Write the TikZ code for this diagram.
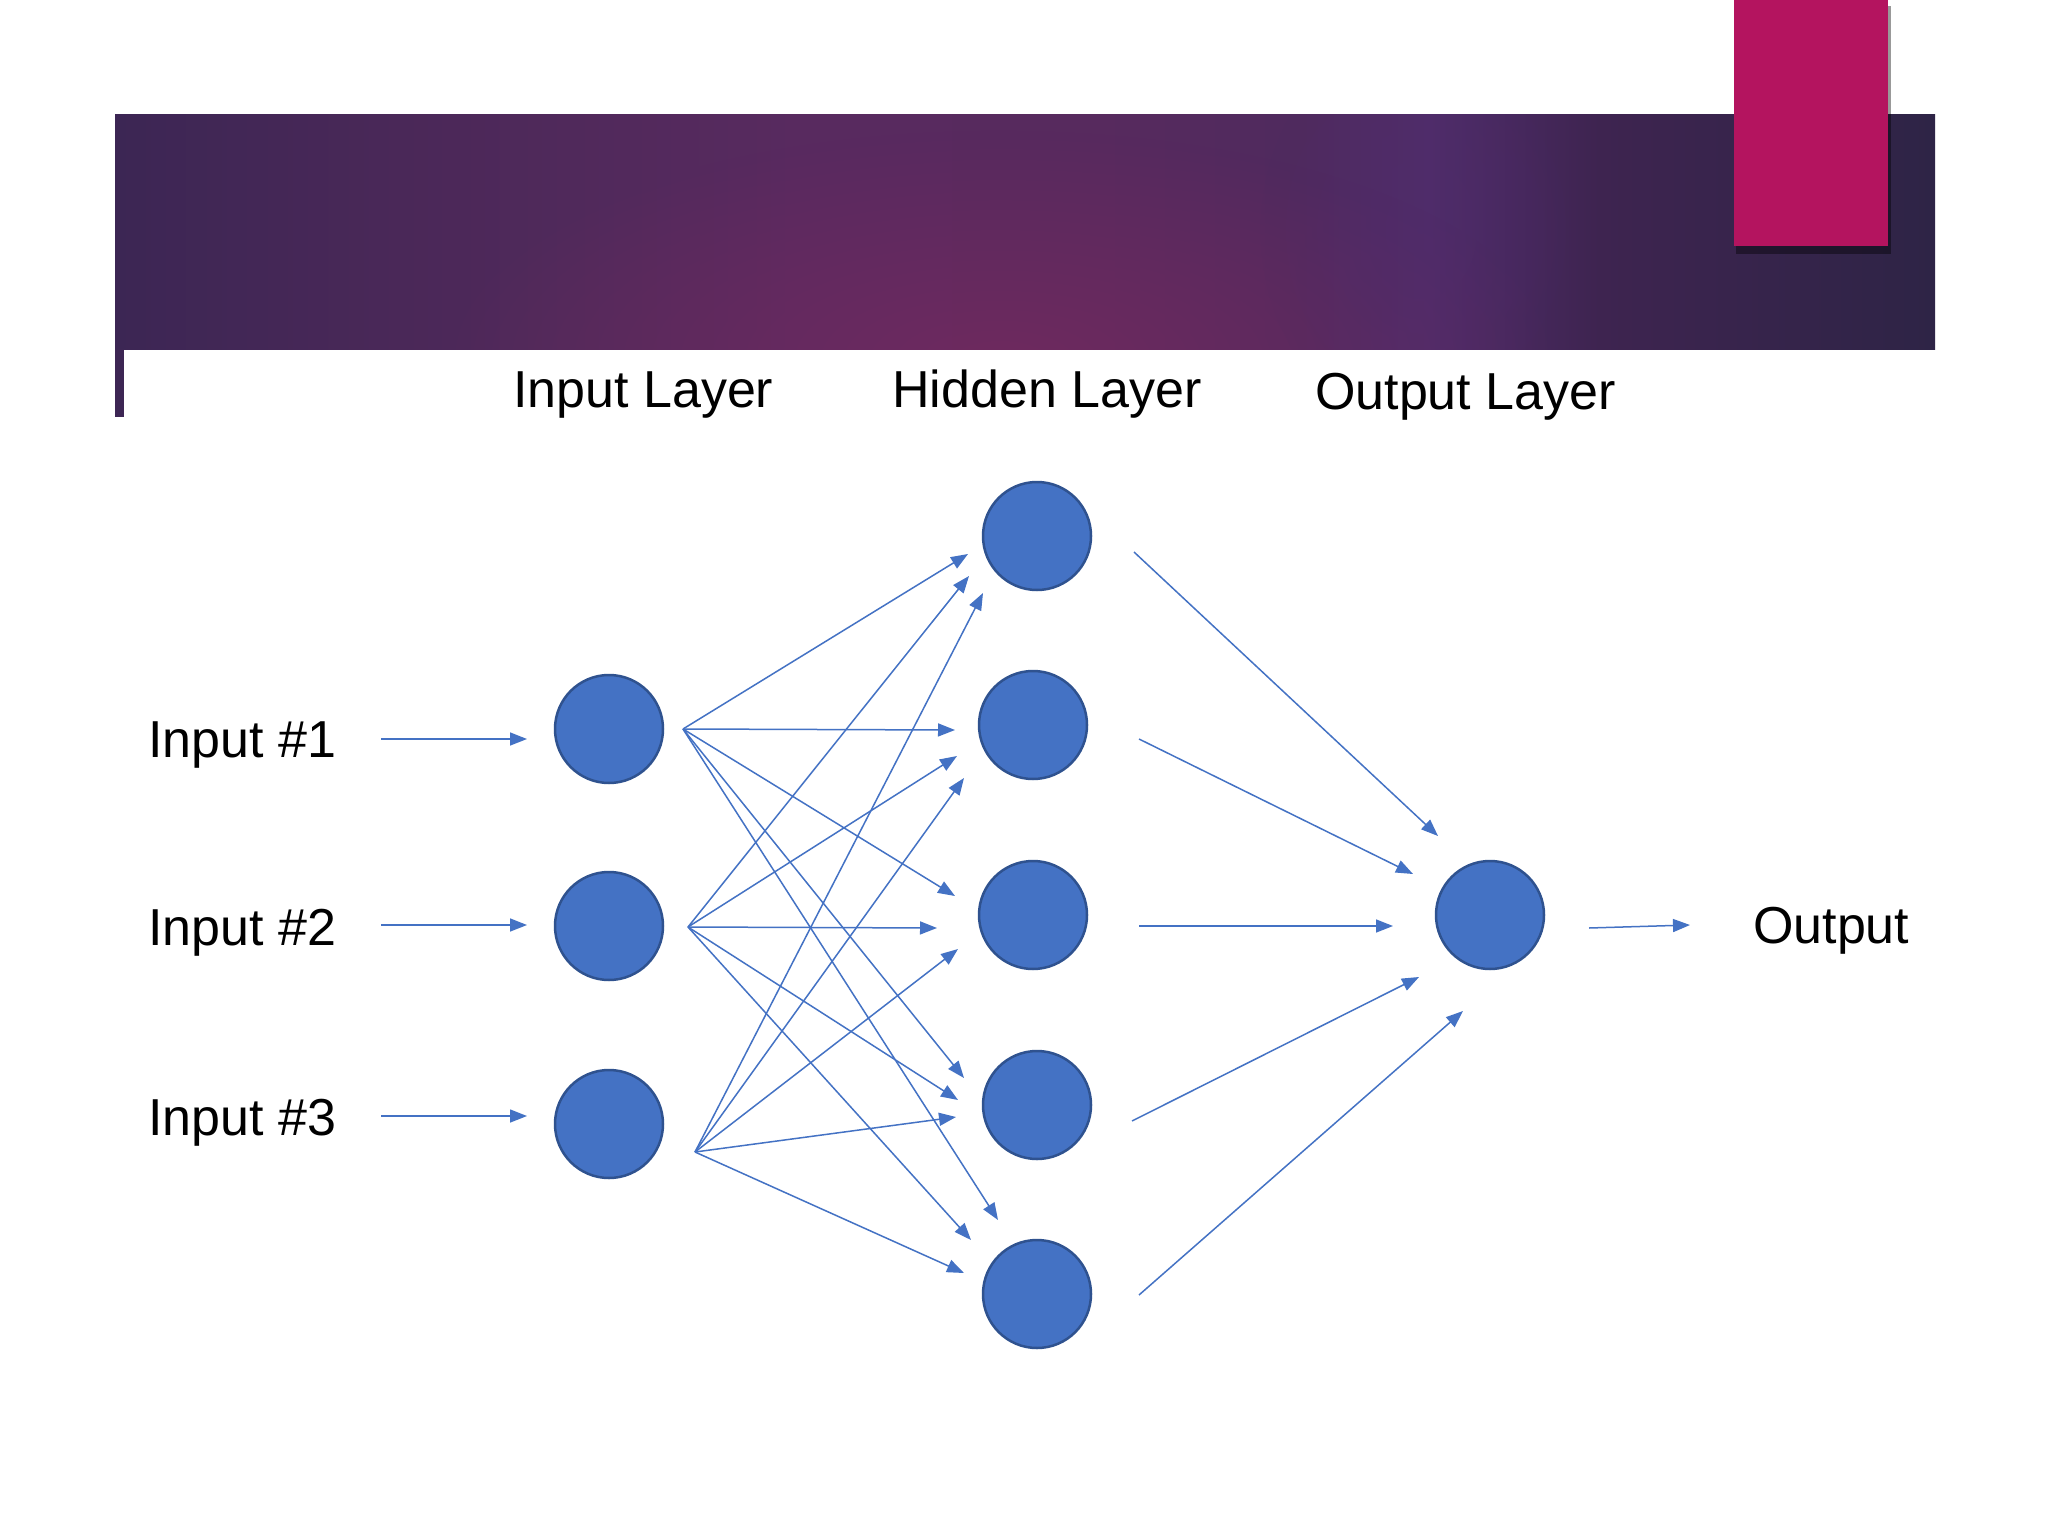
\documentclass[tikz,border=0pt]{standalone}
\usepackage{fontspec}
\setmainfont{Liberation Sans}
\usetikzlibrary{arrows.meta,fadings}
\definecolor{nblue}{HTML}{4472C4}
\definecolor{nedge}{HTML}{2F528F}
\definecolor{mag}{HTML}{B4145F}
\definecolor{bA}{HTML}{3C2654}
\definecolor{bB}{HTML}{4A2858}
\definecolor{bC}{HTML}{582A5F}
\definecolor{bD}{HTML}{572A5E}
\definecolor{bE}{HTML}{4F2A5E}
\definecolor{bF}{HTML}{4F2C6A}
\definecolor{bG}{HTML}{3E2450}
\definecolor{bH}{HTML}{2E2446}
\definecolor{glowc}{HTML}{72295F}
\definecolor{sidebar}{HTML}{3D2654}
\pgfdeclarehorizontalshading{bannershade}{100bp}{color(0bp)=(bA); color(25bp)=(bA); color(32.8bp)=(bB); color(43.8bp)=(bC); color(52.1bp)=(bD); color(57.6bp)=(bE); color(61.1bp)=(bF); color(65.8bp)=(bG); color(75bp)=(bH); color(100bp)=(bH)}
\tikzfading[name=glowfade, inner color=transparent!15, outer color=transparent!100]
\tikzset{
  neuron/.style={circle, fill=nblue, draw=nedge, line width=2.5pt, minimum size=108pt, inner sep=0pt},
  conn/.style={draw=nblue, line width=1.5pt, -{Triangle[length=17pt,width=13pt]}},
  lbl/.style={font=\fontsize{52}{62}\selectfont, inner sep=0pt, anchor=base west, text=black}
}
\begin{document}
\begin{tikzpicture}[x=1pt,y=-1pt]
\useasboundingbox (0,0) rectangle (2048,1536);
\fill[white] (0,0) rectangle (2048,1536);
% banner
\shade[shading=bannershade] (115,115) rectangle (1935,349);
\begin{scope}
  \clip (115,115) rectangle (1935,349);
  \fill[glowc, path fading=glowfade] (1000,360) ellipse (560 and 230);
  \fill[bF, path fading=glowfade, opacity=0.6] (1420,230) ellipse (160 and 200);
\end{scope}
\fill[sidebar] (115,349) rectangle (124,417);
% magenta block with shadow
\fill[black, opacity=0.4] (1736,6) rectangle (1891,254);
\fill[mag] (1734,0) rectangle (1888,246);
% header labels
\node[lbl] (lin) at (513,407) {Input Layer};
\node[lbl] (lhid) at (892,407) {Hidden Layer};
\node[lbl] (lout) at (1315,409) {Output Layer};
% input labels
\node[lbl] (x1) at (148,757) {Input \#1};
\node[lbl] (x2) at (148,945) {Input \#2};
\node[lbl] (x3) at (148,1135) {Input \#3};
\node[lbl] (y) at (1753,943) {Output};
% neurons
\node[neuron] (i1) at (609,729) {};
\node[neuron] (i2) at (609,926) {};
\node[neuron] (i3) at (609,1124) {};
\node[neuron] (h1) at (1037,536) {};
\node[neuron] (h2) at (1033,725) {};
\node[neuron] (h3) at (1033,915) {};
\node[neuron] (h4) at (1037,1105) {};
\node[neuron] (h5) at (1037,1294) {};
\node[neuron] (o) at (1490,915) {};
% input arrows
\coordinate (a1) at (381,739); \coordinate (b1) at (527,739);
\coordinate (a2) at (381,925); \coordinate (b2) at (527,925);
\coordinate (a3) at (381,1116); \coordinate (b3) at (527,1116);
\draw[conn] (a1) -- (b1);
\draw[conn] (a2) -- (b2);
\draw[conn] (a3) -- (b3);
% fan-out points
\coordinate (s1) at (683,729);
\coordinate (s2) at (688,927);
\coordinate (s3) at (695,1152);
% tips at hidden layer
\coordinate (t11) at (968,554);  \coordinate (t12) at (955,730);  \coordinate (t13) at (955,896);  \coordinate (t14) at (964,1078); \coordinate (t15) at (998,1220);
\coordinate (t21) at (969,576);  \coordinate (t22) at (957,756);  \coordinate (t23) at (937,928);  \coordinate (t24) at (958,1100); \coordinate (t25) at (971,1240);
\coordinate (t31) at (983,593);  \coordinate (t32) at (964,778);  \coordinate (t33) at (958,949);  \coordinate (t34) at (956,1117); \coordinate (t35) at (964,1273);
\foreach \i in {1,2,3}{
  \foreach \j in {1,...,5}{
    \draw[conn] (s\i) -- (t\i\j);
  }
}
% hidden to output
\coordinate (u1) at (1134,552);  \coordinate (v1) at (1438,836);
\coordinate (u2) at (1139,739);  \coordinate (v2) at (1413,874);
\coordinate (u3) at (1139,926);  \coordinate (v3) at (1393,926);
\coordinate (u4) at (1132,1121); \coordinate (v4) at (1419,977);
\coordinate (u5) at (1139,1295); \coordinate (v5) at (1463,1011);
\foreach \k in {1,...,5}{
  \draw[conn] (u\k) -- (v\k);
}
% output arrow
\coordinate (oa) at (1589,928);
\coordinate (ob) at (1690,925);
\draw[conn] (oa) -- (ob);
\end{tikzpicture}
\end{document}
